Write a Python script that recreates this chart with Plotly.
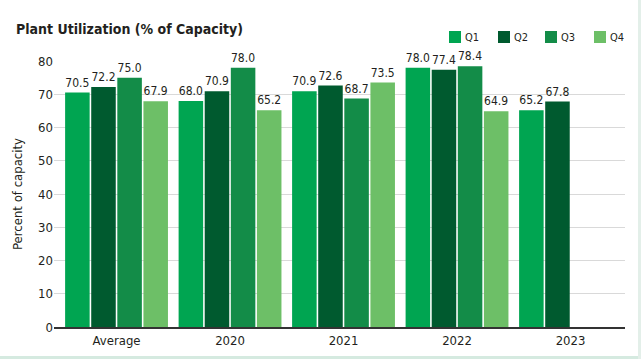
import plotly.graph_objects as go

categories = ["Average", "2020", "2021", "2022", "2023"]
q1 = [70.5, 68.0, 70.9, 78.0, 65.2]
q2 = [72.2, 70.9, 72.6, 77.4, 67.8]
q3 = [75.0, 78.0, 68.7, 78.4, None]
q4 = [67.9, 65.2, 73.5, 64.9, None]
series_names = ["Q1", "Q2", "Q3", "Q4"]
colors = ["#00A551", "#005A2F", "#138C48", "#6DBF67"]
y_ticks = [0, 10, 20, 30, 40, 50, 60, 70, 80]

FONT = "DejaVu Sans Condensed, Liberation Sans, sans-serif"
TXT = "#231f20"
W, H = 641, 359
ML, MR, MT, MB = 54, 16, 61, 32
PW, PH = W - ML - MR, H - MT - MB


def px_x(x):
    return (x - ML) / PW


def px_y(y):
    return (H - MB - y) / PH


fig = go.Figure()
for name, vals, col in zip(series_names, [q1, q2, q3, q4], colors):
    fig.add_trace(go.Bar(
        name=name, x=categories, y=vals, marker=dict(color=col, line=dict(width=0)),
        text=[None if v is None else f"{v:.1f}" for v in vals],
        textposition="outside", cliponaxis=False, constraintext="none",
        textfont=dict(family=FONT, size=12, color=TXT),
        showlegend=False,
    ))

# legend drawn as small swatches + labels above the plot
legend_x = [449, 498, 545, 594]
for name, col, lx in zip(series_names, colors, legend_x):
    fig.add_shape(type="rect", xref="paper", yref="paper",
                  x0=px_x(lx), x1=px_x(lx + 12), y0=px_y(43), y1=px_y(31),
                  fillcolor=col, line=dict(width=0))
    fig.add_annotation(text=name, xref="paper", yref="paper", x=px_x(lx + 14), y=px_y(37),
                       xanchor="left", yanchor="middle", showarrow=False,
                       font=dict(family=FONT, size=11, color=TXT))

fig.update_layout(
    width=W, height=H,
    margin=dict(l=ML, r=MR, t=MT, b=MB),
    paper_bgcolor="white", plot_bgcolor="white",
    barmode="group", bargap=0.08, bargroupgap=0.06,
    font=dict(family=FONT, color=TXT),
    title=dict(text="<b>Plant Utilization (% of Capacity)</b>", x=16 / W, xanchor="left",
               y=1 - 29 / H, yanchor="middle", font=dict(family=FONT, size=14, color=TXT)),
    showlegend=False,
)
fig.update_xaxes(
    type="category", range=[-0.551, 4.48], showline=True, linecolor="#333333", linewidth=2,
    ticks="", tickfont=dict(family=FONT, size=13, color=TXT), showgrid=False, automargin=False,
)
fig.update_yaxes(
    range=[0, 80], tickvals=y_ticks, showgrid=True, gridcolor="#d9d9d9", gridwidth=1,
    ticks="", zeroline=False, automargin=False,
    tickfont=dict(family=FONT, size=13, color=TXT),
    title=dict(text="Percent of capacity", font=dict(family=FONT, size=13, color=TXT), standoff=12),
)
fig.add_shape(type="rect", xref="paper", yref="paper", x0=-1, x1=2, y0=px_y(359), y1=px_y(356),
              fillcolor="#d5eae0", line=dict(width=0), layer="below")
fig.add_shape(type="rect", xref="paper", yref="paper", x0=px_x(638), x1=2, y0=-1, y1=2,
              fillcolor="#e3efe9", line=dict(width=0), layer="below")
fig.write_html("out.html", config={"displayModeBar": False},
               post_script="document.body.style.margin='0';")
